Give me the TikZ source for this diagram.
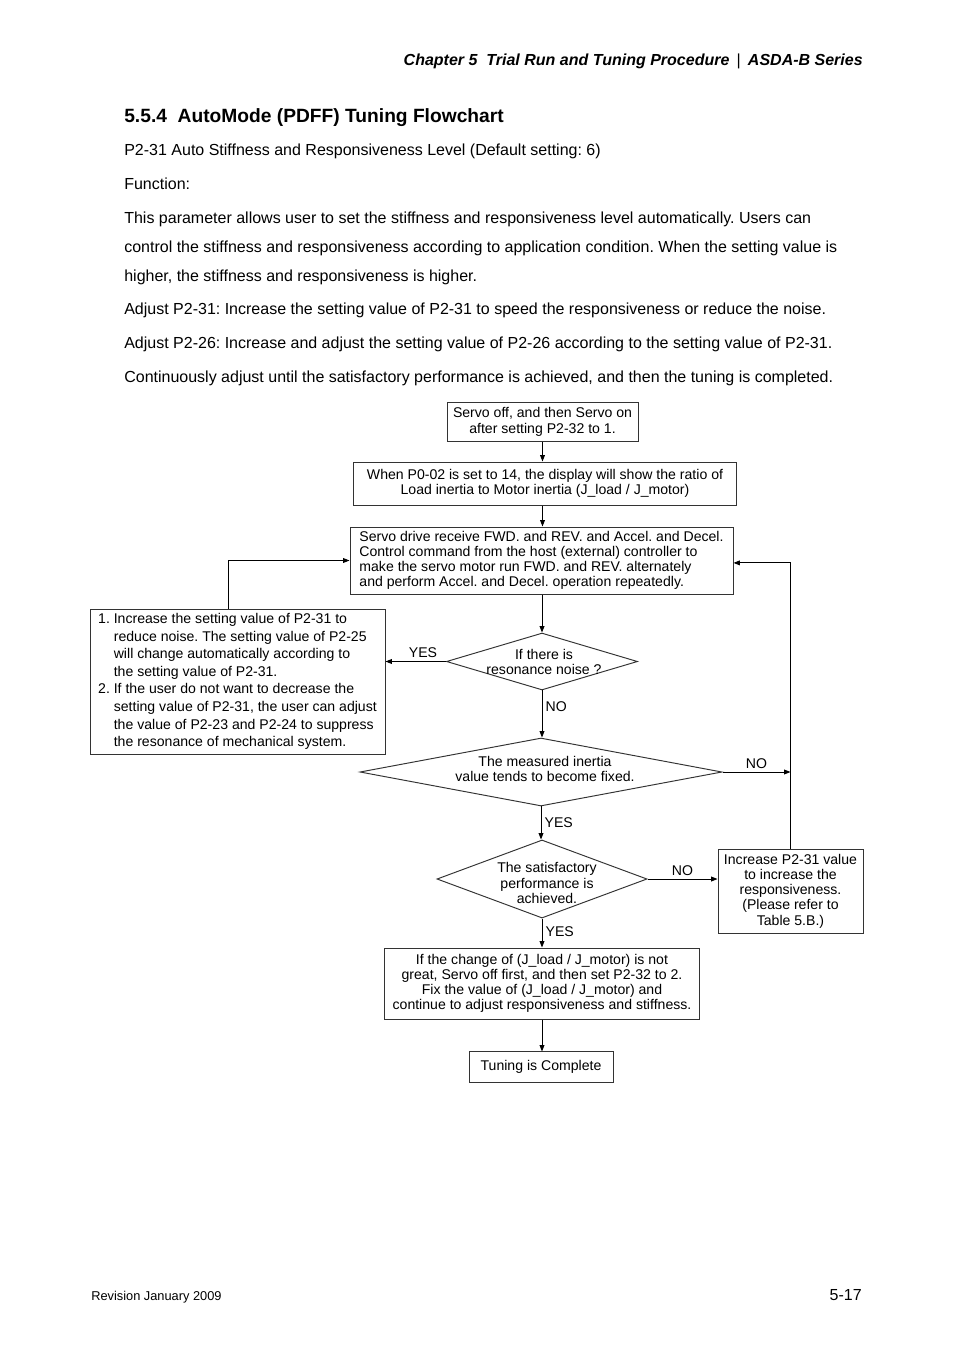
\documentclass[tikz,border=0pt]{standalone}
\usepackage{fontspec}
\setmainfont{Liberation Sans}
\usetikzlibrary{shapes.geometric, arrows.meta, positioning}
\frenchspacing
\newcommand{\chartsize}{\fontsize{8.8}{9.5}\selectfont}
\tikzset{
    >={Triangle[length=4pt, width=3pt]},                       % Small filled arrow heads
    process/.style={draw=black!80, line width=0.6pt, inner sep=1pt, align=center, font=\chartsize},
    decision/.style={diamond, draw=black!80, line width=0.6pt, inner sep=0pt},
    question/.style={align=center, inner sep=0pt, font=\chartsize},
    answer/.style={font=\chartsize, inner sep=2pt},
    flow/.style={->, line width=0.6pt},                        % Connectors of the flowchart
    bodyline/.style={anchor=base west, inner sep=0pt, font=\fontsize{10}{12}\selectfont}
}

\begin{document}
\begin{tikzpicture}[x=0.625pt, y=-0.625pt]
    \fill[white] (0,0) rectangle (954,1351);
    \useasboundingbox (0,0) rectangle (954,1351);

    % Page header and text
    \node[anchor=base east, inner sep=0pt, font=\fontsize{10}{12}\selectfont] (header) at (863,65)
        {{\bfseries\itshape Chapter 5\ \ Trial Run and Tuning Procedure}\hspace{0.45em}\textbar\hspace{0.45em}{\bfseries\itshape ASDA-B Series}};
    \node[anchor=base west, inner sep=0pt, font=\fontsize{12}{14}\selectfont\bfseries] (title) at (124,122)
        {5.5.4\ \ AutoMode (PDFF) Tuning Flowchart};
    \node[bodyline] (param) at (124,155) {P2-31 Auto Stiffness and Responsiveness Level (Default setting: 6)};
    \node[bodyline] (func) at (124,189) {Function:};
    \node[bodyline] (lineA) at (124,223) {This parameter allows user to set the stiffness and responsiveness level automatically. Users can};
    \node[bodyline] (lineB) at (124,252) {control the stiffness and responsiveness according to application condition. When the setting value is};
    \node[bodyline] (lineC) at (124,281) {higher, the stiffness and responsiveness is higher.};
    \node[bodyline] (adjA) at (124,314) {Adjust P2-31: Increase the setting value of P2-31 to speed the responsiveness or reduce the noise.};
    \node[bodyline] (adjB) at (124,348) {Adjust P2-26: Increase and adjust the setting value of P2-26 according to the setting value of P2-31.};
    \node[bodyline] (cont) at (124,382) {Continuously adjust until the satisfactory performance is achieved, and then the tuning is completed.};

    % Flowchart blocks
    \node[process, minimum width=119.4pt, minimum height=24.4pt, font=\fontsize{8.8}{10}\selectfont] (servooff) at (542.5,421.5)
        {Servo off, and then Servo on\\after setting P2-32 to 1.};
    \node[process, minimum width=238.8pt, minimum height=26.9pt] (ratio) at (545,483.5)
        {When P0-02 is set to 14, the display will show the ratio of\\Load inertia to Motor inertia (J\_load / J\_motor)};
    \node[process, align=left, minimum width=239.4pt, minimum height=41.9pt] (runcmd) at (541.5,560.5)
        {Servo drive receive FWD. and REV. and Accel. and Decel.\\
         Control command from the host (external) controller to\\
         make the servo motor run FWD. and REV. alternately\\
         and perform Accel. and Decel. operation repeatedly.};
    \node[decision, minimum width=119.4pt, minimum height=35.6pt] (noise) at (542,661.5) {};
    \node[question] (noisetext) at (544,662) {If there is\\resonance noise ?};
    \node[process, align=left, minimum width=184.4pt, minimum height=90.6pt, font=\fontsize{8.8}{11}\selectfont] (reduce) at (237.5,681.5)
        {1. Increase the setting value of P2-31 to\\
         \hphantom{1. }reduce noise. The setting value of P2-25\\
         \hphantom{1. }will change automatically according to\\
         \hphantom{1. }the setting value of P2-31.\\
         2. If the user do not want to decrease the\\
         \hphantom{2. }setting value of P2-31, the user can adjust\\
         \hphantom{2. }the value of P2-23 and P2-24 to suppress\\
         \hphantom{2. }the resonance of mechanical system.};
    \node[decision, minimum width=226.3pt, minimum height=42.5pt] (fixed) at (541,772) {};
    \node[question] (fixedtext) at (545,769) {The measured inertia\\value tends to become fixed.};
    \node[decision, minimum width=131.3pt, minimum height=48.8pt] (satisfied) at (542,879) {};
    \node[question] (satisfiedtext) at (547,883) {The satisfactory\\performance is\\achieved.};
    \node[process, minimum width=90.6pt, minimum height=52.5pt] (raise) at (790.5,891)
        {Increase P2-31 value\\to increase the\\responsiveness.\\(Please refer to\\Table 5.B.)};
    \node[process, minimum width=196.3pt, minimum height=44.4pt] (fixratio) at (542,983.5)
        {If the change of (J\_load / J\_motor) is not\\
         great, Servo off first, and then set P2-32 to 2.\\
         Fix the value of (J\_load / J\_motor) and\\
         continue to adjust responsiveness and stiffness.};
    \node[process, minimum width=90pt, minimum height=18.8pt] (done) at (541,1067) {Tuning is Complete};

    % Connectors
    \draw[flow] (servooff.south) -- (servooff.south |- ratio.north);
    \draw[flow] (servooff.south |- ratio.south) -- (servooff.south |- runcmd.north);
    \draw[flow] (noise.north |- runcmd.south) -- (noise.north);
    \draw[flow] (noise.west) -- node[answer, above, pos=0.38] (yesA) {YES} (noise.west -| reduce.east);
    \draw[flow] ([xshift=-5.9pt]reduce.north) |- (runcmd.west);
    \draw[flow] (noise.south) -- node[answer, right, pos=0.35] (noA) {NO} (noise.south |- fixed.north);
    \draw[flow] (fixed.east) -- node[answer, above] (noB) {NO} (fixed.east -| raise.north);
    \draw[flow] (raise.north) |- ([yshift=-1.5pt]runcmd.east);
    \draw[flow] (fixed.south) -- node[answer, right] (yesB) {YES} (fixed.south |- satisfied.north);
    \draw[flow] (satisfied.east) -- node[answer, above] (noC) {NO} (satisfied.east -| raise.west);
    \draw[flow] (satisfied.south) -- node[answer, right, pos=0.45] (yesC) {YES} (satisfied.south |- fixratio.north);
    \draw[flow] (fixratio.south) -- (fixratio.south |- done.north);

    % Page footer
    \node[anchor=base west, inner sep=0pt, font=\fontsize{8}{10}\selectfont] (revision) at (91,1300) {Revision January 2009};
    \node[anchor=base east, inner sep=0pt, font=\fontsize{10}{12}\selectfont] (pageno) at (862,1300) {5-17};
\end{tikzpicture}
\end{document}
